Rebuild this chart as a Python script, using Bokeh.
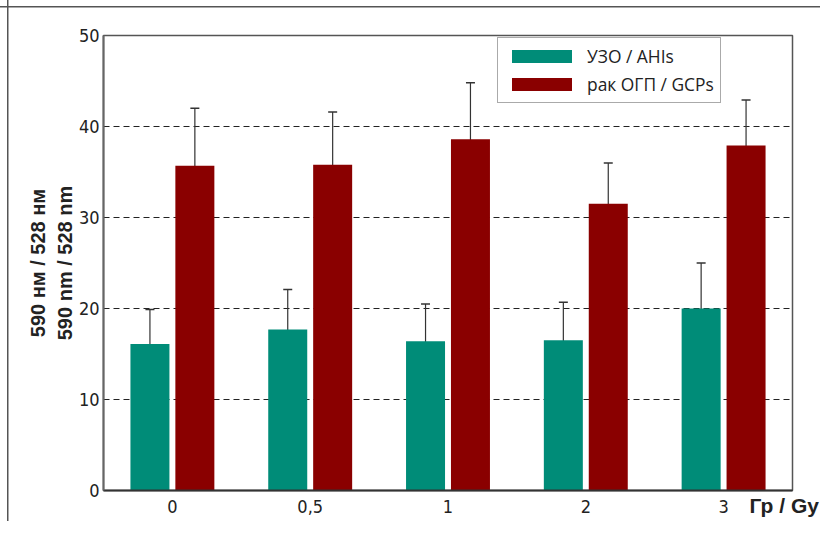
import numpy as np
from bokeh.plotting import figure
from bokeh.models import (ColumnDataSource, Range1d, FixedTicker, Whisker, TeeHead,
                          Legend, LegendItem, LinearAxis)
from bokeh.embed import file_html
from bokeh.resources import INLINE

# ---- data ----
groups = ["0", "0,5", "1", "2", "3"]
ahi = [16.1, 17.7, 16.4, 16.5, 20.0]
ahi_lo = [12.0, 13.3, 11.8, 12.3, 14.7]
ahi_hi = [19.9, 22.1, 20.5, 20.7, 25.0]
gcp = [35.7, 35.8, 38.6, 31.5, 37.9]
gcp_lo = [29.3, 30.0, 32.0, 26.9, 32.6]
gcp_hi = [42.0, 41.6, 44.8, 36.0, 42.9]
y_ticks = [0, 10, 20, 30, 40, 50]
series_names = ["УЗО / AHIs", "рак ОГП / GCPs"]
x_unit = "Гр / Gy"
y_title = "590 нм / 528 нм\n590 nm / 528 nm"

TEAL = "#008C78"
RED = "#8A0000"
NARROW = "'Liberation Sans Narrow', 'Arial Narrow', 'DejaVu Sans Condensed', sans-serif"

centers = np.arange(len(groups)) + 0.5
off = 0.163
bw = 0.283

src_a = ColumnDataSource(dict(x=centers - off, top=ahi, lo=ahi_lo, hi=ahi_hi))
src_g = ColumnDataSource(dict(x=centers + off, top=gcp, lo=gcp_lo, hi=gcp_hi))

p = figure(width=820, height=521, output_backend="svg", toolbar_location=None,
           x_range=Range1d(0, len(groups)), y_range=Range1d(0, 50),
           min_border_left=103, min_border_right=28, min_border_top=35, min_border_bottom=31)
p.background_fill_color = "white"
p.border_fill_alpha = 0
# thin page frame (top and left edges) behind the transparent border area
p.styles = {
    "background-color": "white",
    "background-image": "linear-gradient(#555555, #555555), linear-gradient(#555555, #555555)",
    "background-size": "100% 1.5px, 1.5px 100%",
    "background-position": "0px 6px, 7px 0px",
    "background-repeat": "no-repeat",
}
p.outline_line_color = "#555555"
p.outline_line_width = 1.5

ra = p.vbar(x="x", top="top", width=bw, source=src_a, fill_color=TEAL, line_color=None)
rg = p.vbar(x="x", top="top", width=bw, source=src_g, fill_color=RED, line_color=None)

for s in (src_a, src_g):
    w = Whisker(base="x", lower="lo", upper="hi", source=s,
                line_color="#333333", line_width=1.2,
                upper_head=TeeHead(size=9, line_color="#333333", line_width=1.5),
                lower_head=TeeHead(size=9, line_color="#333333", line_width=1.5))
    p.add_layout(w)

# main x axis
xa = p.xaxis[0]
xa.ticker = FixedTicker(ticks=list(centers))
xa.major_label_overrides = {float(c): g for c, g in zip(centers, groups)}
xa.major_tick_out = 0
xa.major_tick_in = 0
xa.minor_tick_out = 0
xa.minor_tick_in = 0
xa.axis_line_color = "#333333"
xa.axis_line_width = 2
xa.major_label_standoff = 9
xa.major_label_text_font = NARROW
xa.major_label_text_font_size = "18px"
xa.major_label_text_color = "#222222"

ya = p.yaxis[0]
ya.ticker = FixedTicker(ticks=y_ticks)
ya.major_tick_out = 0
ya.major_tick_in = 0
ya.minor_tick_out = 0
ya.minor_tick_in = 0
ya.axis_line_color = "#666666"
ya.axis_line_width = 2
ya.major_label_standoff = 4
ya.major_label_text_font = NARROW
ya.major_label_text_font_size = "18px"
ya.major_label_text_color = "#222222"
ya.axis_label = y_title
ya.axis_label_text_font = "Liberation Sans"
ya.axis_label_text_font_style = "bold"
ya.axis_label_text_font_size = "20px"
ya.axis_label_text_color = "#222222"
ya.axis_label_standoff = 0

# unit label next to the last tick label: a label-only axis pulled up to the tick-label row
unit_x = 4.94
unit_axis = LinearAxis(ticker=FixedTicker(ticks=[unit_x]),
                       major_label_overrides={unit_x: x_unit})
unit_axis.axis_line_color = None
unit_axis.major_tick_out = 0
unit_axis.major_tick_in = 0
unit_axis.minor_tick_out = 0
unit_axis.minor_tick_in = 0
unit_axis.major_label_standoff = -22
unit_axis.major_label_text_font = "Liberation Sans"
unit_axis.major_label_text_font_style = "bold"
unit_axis.major_label_text_font_size = "21px"
unit_axis.major_label_text_color = "#222222"
p.add_layout(unit_axis, "below")

p.xgrid.grid_line_color = None
p.ygrid.grid_line_color = "#222222"
p.ygrid.grid_line_dash = "6 4"
p.ygrid.grid_line_width = 1

legend = Legend(items=[LegendItem(label=series_names[0], renderers=[ra]),
                       LegendItem(label=series_names[1], renderers=[rg])],
                location=(394, 387), orientation="vertical")
legend.glyph_width = 75
legend.glyph_height = 16
legend.label_height = 20
legend.label_standoff = 8
legend.spacing = 4
legend.padding = 6
legend.margin = 0
legend.label_text_font = "Open Sans"
legend.label_text_font_size = "17.4px"
legend.label_text_color = "#222222"
legend.border_line_color = "#555555"
legend.border_line_width = 1.5
legend.background_fill_alpha = 1
p.add_layout(legend)

open("out.html", "w").write(file_html(p, INLINE))
